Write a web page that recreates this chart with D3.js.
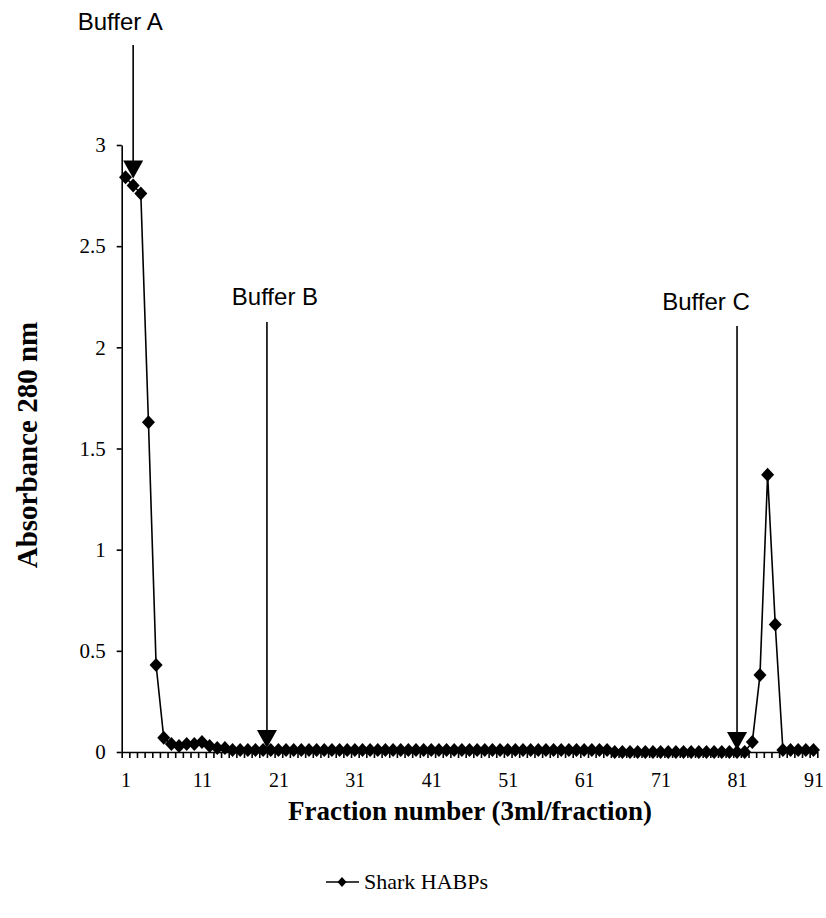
<!DOCTYPE html>
<html>
<head>
<meta charset="utf-8">
<script src="https://cdn.jsdelivr.net/npm/d3@7"></script>
<style>
  body { margin: 0; background: #fff; }
  svg { display: block; }
  text { fill: #000; }
</style>
</head>
<body>
<svg id="chart" width="826" height="918"></svg>
<script>
// Fraction numbers collected from the column (3 ml each)
const fractions = d3.range(1, 92);

// Absorbance at 280 nm for every fraction
const absorbance = [
  2.84, 2.80, 2.76, 1.63, 0.43, 0.07, 0.04, 0.03, 0.04, 0.04,
  0.05, 0.03, 0.02, 0.02, 0.01, 0.01, 0.01, 0.01, 0.01, 0.01,
  0.01, 0.01, 0.01, 0.01, 0.01, 0.01, 0.01, 0.01, 0.01, 0.01,
  0.01, 0.01, 0.01, 0.01, 0.01, 0.01, 0.01, 0.01, 0.01, 0.01,
  0.01, 0.01, 0.01, 0.01, 0.01, 0.01, 0.01, 0.01, 0.01, 0.01,
  0.01, 0.01, 0.01, 0.01, 0.01, 0.01, 0.01, 0.01, 0.01, 0.01,
  0.01, 0.01, 0.01, 0.01, 0.00, 0.00, 0.00, 0.00, 0.00, 0.00,
  0.00, 0.00, 0.00, 0.00, 0.00, 0.00, 0.00, 0.00, 0.00, 0.00,
  0.00, 0.00, 0.05, 0.38, 1.37, 0.63, 0.01, 0.01, 0.01, 0.01,
  0.01
];

// Axis ticks
const yTickValues = [0, 0.5, 1, 1.5, 2, 2.5, 3];
const xTickLabels = [1, 11, 21, 31, 41, 51, 61, 71, 81, 91];

// Buffer change annotations: name, fraction where it starts, arrow tip value
const bufferNames = ["Buffer A", "Buffer B", "Buffer C"];
const bufferFractions = [2, 19.5, 81];
const bufferTipValues = [2.835, 0.02, 0.01];

const seriesName = "Shark HABPs";
const xTitle = "Fraction number (3ml/fraction)";
const yTitle = "Absorbance 280 nm";

// ---- layout ----
const svg = d3.select("#chart");
const plot = { left: 121.7, right: 817.3, top: 145, bottom: 752 };

const x = d3.scaleLinear()
  .domain([0.5, fractions.length + 0.5])
  .range([plot.left, plot.right]);
const y = d3.scaleLinear()
  .domain([0, 3])
  .range([plot.bottom, plot.top]);

const serif = "'Liberation Serif', 'Times New Roman', serif";
const sans = "'Liberation Sans', Arial, sans-serif";

// y axis
const yAxis = svg.append("g")
  .attr("transform", `translate(${plot.left},0)`)
  .call(d3.axisLeft(y).tickValues(yTickValues).tickSize(5).tickSizeOuter(0)
    .tickPadding(11).tickFormat(d => String(d)));
yAxis.selectAll("text").style("font-family", serif).style("font-size", "21px");

// x axis: a small tick between every pair of fractions
svg.append("g")
  .attr("transform", `translate(0,${plot.bottom})`)
  .call(d3.axisBottom(x)
    .tickValues(d3.range(0.5, fractions.length + 1, 1))
    .tickSize(6).tickSizeOuter(0).tickFormat(""));

// x axis labels every tenth fraction
const xAxisLabels = svg.append("g")
  .attr("transform", `translate(0,${plot.bottom})`)
  .call(d3.axisBottom(x).tickValues(xTickLabels).tickSize(0).tickPadding(21)
    .tickFormat(d => String(d)));
xAxisLabels.select(".domain").remove();
xAxisLabels.selectAll("text").style("font-family", serif).style("font-size", "20px");

svg.selectAll(".domain, .tick line").attr("stroke", "#000").attr("stroke-width", 1.6);

// axis titles
svg.append("text")
  .attr("x", 470).attr("y", 820)
  .attr("text-anchor", "middle")
  .style("font-family", serif).style("font-size", "27px").style("font-weight", "bold")
  .text(xTitle);

svg.append("text")
  .attr("transform", "translate(37,445) rotate(-90)")
  .attr("text-anchor", "middle")
  .style("font-family", serif).style("font-size", "29px").style("font-weight", "bold")
  .text(yTitle);

// data series
const points = fractions.map((f, i) => ({ f, v: absorbance[i] }));

svg.append("path")
  .datum(points)
  .attr("fill", "none")
  .attr("stroke", "#000")
  .attr("stroke-width", 1.6)
  .attr("d", d3.line().x(d => x(d.f)).y(d => y(d.v)));

const diamond = "M0,-7L6.5,0L0,7L-6.5,0Z";
svg.append("g").selectAll("path")
  .data(points)
  .join("path")
  .attr("d", diamond)
  .attr("transform", d => `translate(${x(d.f)},${y(d.v)})`)
  .attr("fill", "#000");

// buffer arrows
const arrowTops = [45, 322, 326];
const labelOffsets = [-13, 8, -31];
const labelBaselines = [30, 305, 310];
bufferNames.forEach((name, i) => {
  const ax = x(bufferFractions[i]);
  const tip = y(bufferTipValues[i]);
  const head = 18;
  const g = svg.append("g");
  g.append("line")
    .attr("x1", ax).attr("x2", ax)
    .attr("y1", arrowTops[i]).attr("y2", tip - head + 2)
    .attr("stroke", "#000").attr("stroke-width", 1.6);
  g.append("path")
    .attr("d", `M${ax - 10},${tip - head}L${ax + 10},${tip - head}L${ax},${tip}Z`)
    .attr("fill", "#000");
  g.append("text")
    .attr("x", ax + labelOffsets[i]).attr("y", labelBaselines[i])
    .attr("text-anchor", "middle")
    .style("font-family", sans).style("font-size", "24px")
    .text(name);
});

// legend
const legend = svg.append("g").attr("transform", "translate(326,882)");
legend.append("line").attr("x1", 0).attr("x2", 33).attr("y1", 0).attr("y2", 0)
  .attr("stroke", "#000").attr("stroke-width", 1.6);
legend.append("path").attr("d", "M0,-5L4.5,0L0,5L-4.5,0Z").attr("transform", "translate(16,0)").attr("fill", "#000");
legend.append("text").attr("x", 38).attr("y", 7)
  .style("font-family", serif).style("font-size", "22px")
  .text(seriesName);
</script>
</body>
</html>
